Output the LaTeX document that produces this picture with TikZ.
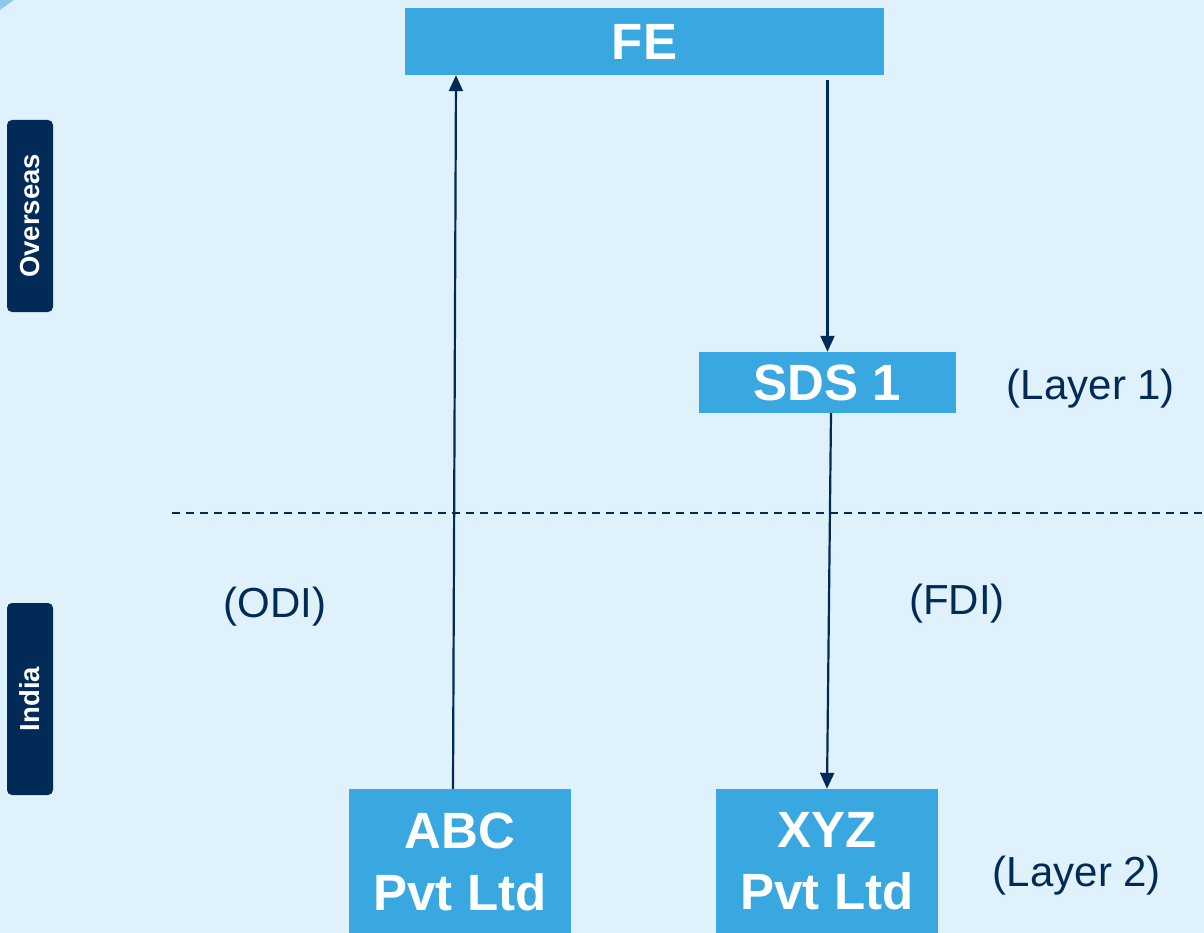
\documentclass[tikz,border=0pt]{standalone}
\usepackage{fontspec}
\setmainfont{Liberation Sans}
\usetikzlibrary{arrows.meta,calc}
\definecolor{bgblue}{HTML}{DFF1FB}
\definecolor{boxblue}{HTML}{3AA8E0}
\definecolor{navy}{HTML}{022A57}
\definecolor{cornerblue}{HTML}{8DCBEE}

\begin{document}
\begin{tikzpicture}[x=1pt,y=-1pt,
    entity/.style={fill=boxblue,text=white,inner sep=0pt,align=center,
      font=\fontsize{51}{62}\selectfont\bfseries},
    region/.style={fill=navy,text=white,rounded corners=5pt,inner sep=0pt,
      minimum width=192pt,minimum height=46pt,rotate=90,
      font=\fontsize{27.5}{30}\selectfont\bfseries},
    note/.style={text=navy,inner sep=0pt,font=\fontsize{42}{46}\selectfont},
    flow/.style={draw=navy,line width=2.2pt,-{Triangle[length=16pt,width=14pt]}}]

	%%%%% BACKGROUND %%%%%
	\fill[bgblue] (0,0) rectangle (1204,933);
	\useasboundingbox (0,0) rectangle (1204,933);
	\fill[cornerblue] (0,0) -- (14,0) -- (0,10) -- cycle;

	%%%%% REGIONS %%%%%
	\node[region] (overseas) at (30,216) {Overseas};
	\node[region] (india) at (30,699) {India};
	\draw[navy,line width=2pt,dash pattern=on 8pt off 6pt] (172,513) -- (1204,513);

	%%%%% ENTITIES %%%%%
	\node[entity,minimum width=479pt,minimum height=67pt] (fe) at (644.5,41.5) {FE};
	\node[entity,minimum width=257pt,minimum height=61pt] (sds) at (827.5,382.5) {SDS 1};
	\node[entity,minimum width=222pt,minimum height=145pt] (abc) at (460,861.5) {ABC\\Pvt Ltd};
	\node[entity,minimum width=222pt,minimum height=145pt] (xyz) at (827,861.5) {XYZ\\Pvt Ltd};

	%%%%% LABELS %%%%%
	\node[note] (layer1) at (1091,389) {(Layer 1)};
	\node[note] (layer2) at (1077,876) {(Layer 2)};
	\node[note] (odi) at (275,607) {(ODI)};
	\node[note] (fdi) at (957,604) {(FDI)};

	%%%%% FLOWS %%%%%
	\draw[flow] ([xshift=-7pt]abc.north) -- ([xshift=-188.5pt]fe.south);
	\draw[flow] ([yshift=-5pt]fe.south -| sds.north) -- (sds.north);
	\draw[flow] ([xshift=3.5pt]sds.south) -- (xyz.north);

\end{tikzpicture}
\end{document}
